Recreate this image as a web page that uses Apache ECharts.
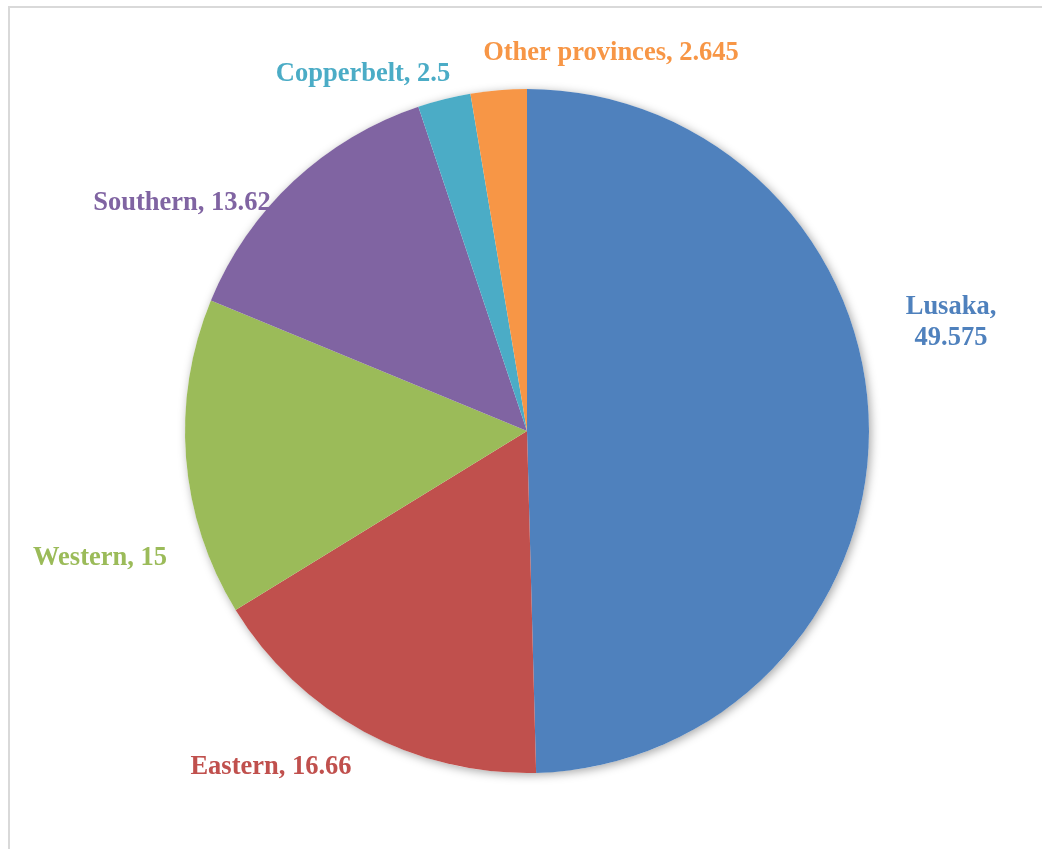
<!DOCTYPE html>
<html>
<head>
<meta charset="utf-8">
<script src="https://cdn.jsdelivr.net/npm/echarts@6/dist/echarts.min.js"></script>
<style>
html,body{margin:0;padding:0;background:#fff;}
#chart{width:1042px;height:849px;}
</style>
</head>
<body>
<div id="chart"></div>
<script>
const categories = ['Lusaka', 'Eastern', 'Western', 'Southern', 'Copperbelt', 'Other provinces'];
const values = [49.575, 16.66, 15, 13.62, 2.5, 2.645];
const labelTexts = ['Lusaka,\n49.575', 'Eastern, 16.66', 'Western, 15', 'Southern, 13.62', 'Copperbelt, 2.5', 'Other provinces, 2.645'];
const colors = ['#4F81BD', '#C0504D', '#9BBB59', '#8064A2', '#4BACC6', '#F79646'];

// label anchor points (centre of each label block), in px
const labelX = [951, 271, 100, 182, 363, 611];
const labelY = [323, 767, 558, 203, 74, 53];

const total = values.reduce((a, b) => a + b, 0);
const chart = echarts.init(document.getElementById('chart'), null, {renderer: 'canvas'});

const center = [527, 431];
const radius = 342;

chart.setOption({
  backgroundColor: '#ffffff',
  animation: false,
  graphic: [{
    type: 'rect',
    shape: {x: 9, y: 7, width: 1100, height: 900},
    style: {fill: 'none', stroke: '#d9d9d9', lineWidth: 2},
    silent: true,
    z: -10
  }],
  series: [
    {
      type: 'pie',
      silent: true,
      center: center,
      radius: radius,
      startAngle: 90,
      label: {show: false},
      labelLine: {show: false},
      itemStyle: {
        color: '#ffffff',
        shadowBlur: 10,
        shadowColor: 'rgba(0,0,0,0.35)',
        shadowOffsetX: 2,
        shadowOffsetY: 2
      },
      data: [{value: total, name: 'all'}],
      z: 1
    },
    {
      type: 'pie',
      center: center,
      radius: radius,
      startAngle: 90,
      clockwise: true,
      itemStyle: {borderWidth: 0},
      labelLine: {show: false},
      label: {
        show: true,
        position: 'outside',
        overflow: 'none',
        fontFamily: '"Liberation Serif", "Times New Roman", serif',
        fontWeight: 'bold',
        fontSize: 26.5,
        lineHeight: 31,
        formatter: p => labelTexts[p.dataIndex],
        color: 'inherit'
      },
      labelLayout: function (params) {
        const i = params.dataIndex;
        return {
          x: labelX[i],
          y: labelY[i],
          align: 'center',
          verticalAlign: 'middle',
          hideOverlap: false,
          moveOverlap: null
        };
      },
      data: categories.map((c, i) => ({
        name: c,
        value: values[i],
        itemStyle: {color: colors[i]},
        label: {color: colors[i]}
      })),
      z: 2
    }
  ]
});
</script>
</body>
</html>
